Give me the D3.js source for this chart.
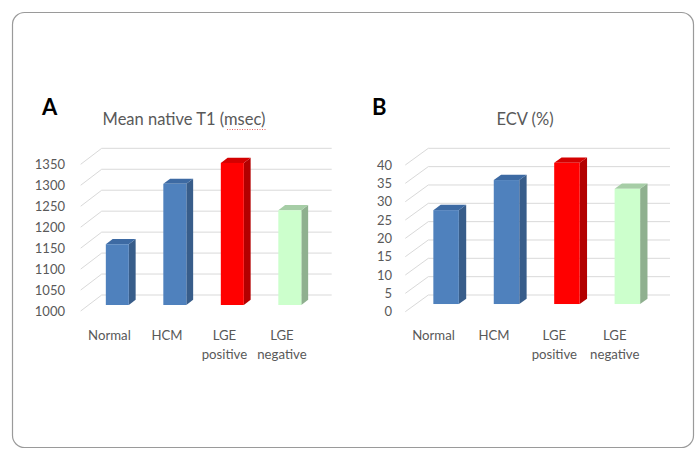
<!DOCTYPE html>
<html><head><meta charset="utf-8">
<script src="https://cdn.jsdelivr.net/npm/d3@7"></script>
<style>body{margin:0;background:#fff}svg{display:block}text{font-family:Lato,"Open Sans",sans-serif}</style>
</head><body>
<svg id="c" width="697" height="450"></svg>
<script>
const categories = [["Normal"],["HCM"],["LGE","positive"],["LGE","negative"]];
const t1Values = [1145, 1289, 1339, 1226];
const ecvValues = [25.6, 33.8, 38.5, 31.4];
const t1Ticks = [1000,1050,1100,1150,1200,1250,1300,1350];
const ecvTicks = [0,5,10,15,20,25,30,35,40];
const colors = [
  {front:"#4f81bd", side:"#385d8a", top:"#3d6aa3"},
  {front:"#4f81bd", side:"#385d8a", top:"#3d6aa3"},
  {front:"#ff0000", side:"#b30000", top:"#d40000"},
  {front:"#ccffcc", side:"#8fb08f", top:"#a6cda6"}
];

const svg = d3.select("#c");
svg.append("rect").attr("x",12.5).attr("y",12.5).attr("width",681).attr("height",435)
  .attr("rx",12).attr("fill","none").attr("stroke","#9a9a9a").attr("stroke-width",1.2);

function panel(o){
  const g = svg.append("g");
  const y = d3.scaleLinear().domain(o.domain).range([o.backBase, o.backTop]);
  const xb = d3.scaleBand().domain(d3.range(o.values.length)).range([o.bx0 - o.dx, o.bx1 - o.dx]);
  o.ticks.forEach(t=>{
    g.append("line").attr("x1",o.bx0).attr("x2",o.bx1).attr("y1",y(t)).attr("y2",y(t))
      .attr("stroke","#d9d9d9").attr("stroke-width",1);
    g.append("line").attr("x1",o.bx0 - o.dx).attr("y1",y(t) - o.dy).attr("x2",o.bx0).attr("y2",y(t))
      .attr("stroke","#d9d9d9").attr("stroke-width",1);
    g.append("text").attr("x",o.labelX).attr("y",y(t) - o.dy + o.labelDy).attr("text-anchor","end")
      .attr("font-size",13).attr("fill","#595959").text(t);
  });
  const f0 = o.f0, f1 = o.f1;
  o.values.forEach((v,i)=>{
    const c = colors[i];
    const cx = xb(i) + xb.bandwidth()/2;
    const bw = o.bw;
    const fl = cx - bw/2 + o.dx*f0;
    const fr = fl + bw;
    const baseF = y(o.domain[0]) - o.dy*(1-f0);
    const topF = y(v) - o.dy*(1-f0);
    const sdx = o.dx*(f1-f0), sdy = o.dy*(f1-f0);
    g.append("path").attr("d",`M${fr},${baseF}L${fr+sdx},${baseF+sdy}L${fr+sdx},${topF+sdy}L${fr},${topF}Z`).attr("fill",c.side);
    g.append("path").attr("d",`M${fl},${topF}L${fr},${topF}L${fr+sdx},${topF+sdy}L${fl+sdx},${topF+sdy}Z`).attr("fill",c.top);
    g.append("rect").attr("x",fl).attr("y",topF).attr("width",bw).attr("height",baseF-topF).attr("fill",c.front);
    categories[i].forEach((s,k)=>{
      g.append("text").attr("x",cx + o.catDx).attr("y",o.catY + k*19).attr("text-anchor","middle")
        .attr("font-size",13.2).attr("fill","#595959").text(s);
    });
  });
  g.append("text").attr("x",o.letterX).attr("y",o.letterY).attr("font-size",22).attr("font-weight","bold")
    .attr("fill","#000").text(o.letter);
  g.append("text").attr("x",o.titleX).attr("y",o.titleY).attr("text-anchor","middle")
    .attr("font-size",16.5).attr("fill","#595959").text(o.title);
  return g;
}

const A = panel({values:t1Values, ticks:t1Ticks, domain:[1000,1350], backBase:295, backTop:148.3,
  bx0:101.7, bx1:331.7, dx:21, dy:-16, f0:0.375, f1:0.7, bw:23, labelX:65, labelDy:4.5,
  catY:339.5, catDx:0, letter:"A", letterX:42, letterY:115, title:"Mean native T1 (msec)", titleX:184, titleY:125});
A.append("line").attr("x1",227).attr("x2",267).attr("y1",129.5).attr("y2",129.5)
  .attr("stroke","#e04040").attr("stroke-width",1).attr("stroke-dasharray","1,1.5").attr("opacity",0.8);

panel({values:ecvValues, ticks:ecvTicks, domain:[0,40], backBase:295, backTop:148.3,
  bx0:428.3, bx1:670, dx:23, dy:-16.7, f0:0.46, f1:0.78, bw:25.5, labelX:392, labelDy:4.5,
  catY:339.5, catDx:-2, letter:"B", letterX:372, letterY:115, title:"ECV (%)", titleX:525, titleY:125});
</script>
</body></html>
